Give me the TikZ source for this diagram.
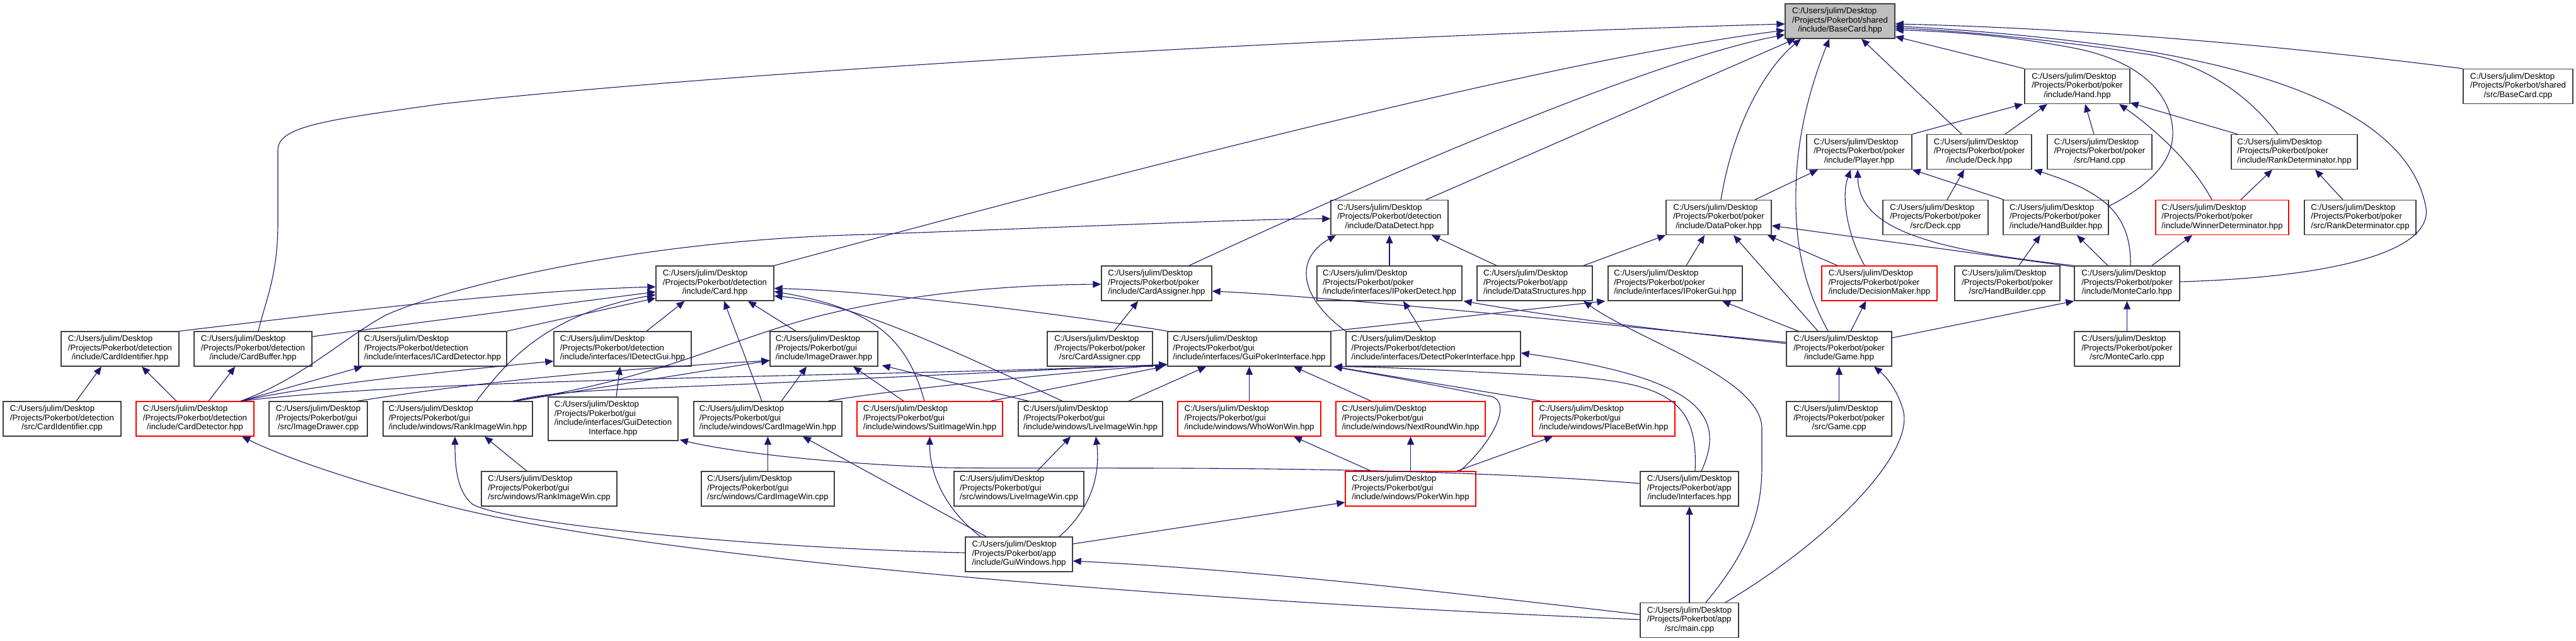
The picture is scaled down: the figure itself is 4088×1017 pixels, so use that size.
\documentclass[tikz,border=0pt]{standalone}
\usepackage{fontspec}
\setmainfont{Liberation Sans}
\usetikzlibrary{arrows.meta,calc}
\definecolor{mblue}{RGB}{25,25,112}
\definecolor{bgray}{RGB}{64,64,64}
\newcommand{\dlab}[2]{\begin{tabular}{@{}l@{}}C:/Users/julim/Desktop\\/Projects/Pokerbot/#1\\\multicolumn{1}{@{}c@{}}{#2}\end{tabular}}
\begin{document}
\begin{tikzpicture}[x=1pt,y=-1pt,
  nd/.style={draw=bgray,line width=1.3pt,fill=white,inner sep=0pt,minimum height=55pt,font=\fontsize{13.2}{14.5}\selectfont},
  rnd/.style={nd,draw=red},
  edg/.style={draw=mblue,line width=1.1pt,-{Triangle[length=13pt,width=11pt]}}]
\fill[white] (0,0) rectangle (4088,1017);
\useasboundingbox (0,0) rectangle (4088,1017);
% row 0
\node[nd,minimum width=174pt,fill=gray!50] (bch) at (2920,33.5) {\dlab{shared}{/include/BaseCard.hpp}};
% row 1
\node[nd,minimum width=167pt] (hand) at (3296.5,137) {\dlab{poker}{/include/Hand.hpp}};
\node[nd,minimum width=174pt] (bcc) at (3996,137) {\dlab{shared}{/src/BaseCard.cpp}};
% row 2
\node[nd,minimum width=167pt] (player) at (2950.5,241) {\dlab{poker}{/include/Player.hpp}};
\node[nd,minimum width=166pt] (deck) at (3141,241) {\dlab{poker}{/include/Deck.hpp}};
\node[nd,minimum width=166pt] (handcpp) at (3332,241) {\dlab{poker}{/src/Hand.cpp}};
\node[nd,minimum width=200pt] (rankh) at (3641,241) {\dlab{poker}{/include/RankDeterminator.hpp}};
% row 3
\node[nd,minimum width=186pt] (dd) at (2205,345) {\dlab{detection}{/include/DataDetect.hpp}};
\node[nd,minimum width=167pt] (dp) at (2727.5,345) {\dlab{poker}{/include/DataPoker.hpp}};
\node[nd,minimum width=167pt] (deckcpp) at (3071.5,345) {\dlab{poker}{/src/Deck.cpp}};
\node[nd,minimum width=167pt] (hbh) at (3262.5,345) {\dlab{poker}{/include/HandBuilder.hpp}};
\node[rnd,minimum width=211pt] (winner) at (3526.5,345) {\dlab{poker}{/include/WinnerDeterminator.hpp}};
\node[nd,minimum width=177pt] (rankcpp) at (3745.5,345) {\dlab{poker}{/src/RankDeterminator.cpp}};
% row 4
\node[nd,minimum width=187pt] (card) at (1134.5,449.5) {\dlab{detection}{/include/Card.hpp}};
\node[nd,minimum width=175pt] (cah) at (1835.5,449.5) {\dlab{poker}{/include/CardAssigner.hpp}};
\node[nd,minimum width=230pt] (ipd) at (2205,449.5) {\dlab{poker}{/include/interfaces/IPokerDetect.hpp}};
\node[nd,minimum width=183pt] (ds) at (2435.5,449.5) {\dlab{app}{/include/DataStructures.hpp}};
\node[nd,minimum width=213pt] (ipg) at (2658.5,449.5) {\dlab{poker}{/include/interfaces/IPokerGui.hpp}};
\node[rnd,minimum width=183pt] (dm) at (2982.5,449.5) {\dlab{poker}{/include/DecisionMaker.hpp}};
\node[nd,minimum width=167pt] (hbcpp) at (3185.5,449.5) {\dlab{poker}{/src/HandBuilder.cpp}};
\node[nd,minimum width=167pt] (mch) at (3375.5,449.5) {\dlab{poker}{/include/MonteCarlo.hpp}};
% row 5
\node[nd,minimum width=187pt] (cih) at (190.5,553.5) {\dlab{detection}{/include/CardIdentifier.hpp}};
\node[nd,minimum width=187pt] (cbuf) at (401.5,553.5) {\dlab{detection}{/include/CardBuffer.hpp}};
\node[nd,minimum width=235pt] (icd) at (686.5,553.5) {\dlab{detection}{/include/interfaces/ICardDetector.hpp}};
\node[nd,minimum width=218pt] (idg) at (988,553.5) {\dlab{detection}{/include/interfaces/IDetectGui.hpp}};
\node[nd,minimum width=171pt] (idh) at (1307.5,553.5) {\dlab{gui}{/include/ImageDrawer.hpp}};
\node[nd,minimum width=167pt] (cacpp) at (1745.5,553.5) {\dlab{poker}{/src/CardAssigner.cpp}};
\node[nd,minimum width=259pt] (gpi) at (1982.5,553.5) {\dlab{gui}{/include/interfaces/GuiPokerInterface.hpp}};
\node[nd,minimum width=277pt] (dpi) at (2274.5,553.5) {\dlab{detection}{/include/interfaces/DetectPokerInterface.hpp}};
\node[nd,minimum width=167pt] (game) at (2918.5,553.5) {\dlab{poker}{/include/Game.hpp}};
\node[nd,minimum width=167pt] (mccpp) at (3375.5,553.5) {\dlab{poker}{/src/MonteCarlo.cpp}};
% row 6
\node[nd,minimum width=187pt] (cicpp) at (98.5,664.5) {\dlab{detection}{/src/CardIdentifier.cpp}};
\node[rnd,minimum width=187pt] (cdet) at (309.5,664.5) {\dlab{detection}{/include/CardDetector.hpp}};
\node[nd,minimum width=156pt] (idcpp) at (505,664.5) {\dlab{gui}{/src/ImageDrawer.cpp}};
\node[nd,minimum width=237pt] (riwh) at (726.5,664.5) {\dlab{gui}{/include/windows/RankImageWin.hpp}};
\node[nd,minimum width=206pt,minimum height=69pt] (gdi) at (973,664.5) {\begin{tabular}{@{}l@{}}C:/Users/julim/Desktop\\/Projects/Pokerbot/gui\\/include/interfaces/GuiDetection\\\multicolumn{1}{@{}c@{}}{Interface.hpp}\end{tabular}};
\node[nd,minimum width=235pt] (ciwh) at (1218.5,664.5) {\dlab{gui}{/include/windows/CardImageWin.hpp}};
\node[rnd,minimum width=231pt] (siwh) at (1475.5,664.5) {\dlab{gui}{/include/windows/SuitImageWin.hpp}};
\node[nd,minimum width=229pt] (liwh) at (1730.5,664.5) {\dlab{gui}{/include/windows/LiveImageWin.hpp}};
\node[rnd,minimum width=227pt] (wwwh) at (1982.5,664.5) {\dlab{gui}{/include/windows/WhoWonWin.hpp}};
\node[rnd,minimum width=237pt] (nrwh) at (2238.5,664.5) {\dlab{gui}{/include/windows/NextRoundWin.hpp}};
\node[rnd,minimum width=226pt] (pbwh) at (2545,664.5) {\dlab{gui}{/include/windows/PlaceBetWin.hpp}};
\node[nd,minimum width=167pt] (gamecpp) at (2918.5,664.5) {\dlab{poker}{/src/Game.cpp}};
% row 7
\node[nd,minimum width=215pt] (riwcpp) at (871.5,775.5) {\dlab{gui}{/src/windows/RankImageWin.cpp}};
\node[nd,minimum width=211pt] (ciwcpp) at (1218.5,775.5) {\dlab{gui}{/src/windows/CardImageWin.cpp}};
\node[nd,minimum width=206pt] (liwcpp) at (1617,775.5) {\dlab{gui}{/src/windows/LiveImageWin.cpp}};
\node[rnd,minimum width=207pt] (pwh) at (2238.5,775.5) {\dlab{gui}{/include/windows/PokerWin.hpp}};
\node[nd,minimum width=156pt] (ifh) at (2681,775.5) {\dlab{app}{/include/Interfaces.hpp}};
% row 8, 9
\node[nd,minimum width=170pt] (gwh) at (1617,879.5) {\dlab{app}{/include/GuiWindows.hpp}};
\node[nd,minimum width=156pt] (main) at (2681,984) {\dlab{app}{/src/main.cpp}};

% ---- edges into BaseCard.hpp
\draw[edg] ($(cbuf.north)+(8.5,0)$) .. controls (420,480) and (441,440) .. (441,353) -- (441,238) .. controls (441,200) and (520,190) .. (700,165) .. controls (1100,120) and (2000,62) .. ($(bch.west)+(0,4.5)$);
\draw[edg] (card.north east) .. controls (1900,240) and (2500,90) .. ($(bch.west)+(0,14.5)$);
\draw[edg] ($(cah.north)+(51.5,0)$) .. controls (2300,230) and (2650,90) .. ($(bch.west)+(0,21.5)$);
\draw[edg] ($(dd.north)+(58,0)$) -- ($(bch.south)+(-71,0)$);
\draw[edg] ($(dp.north)+(3.5,0)$) .. controls (2750,200) and (2800,110) .. ($(bch.south)+(-62,0)$);
\draw[edg] ($(game.north)+(-17.5,0)$) .. controls (2860,450) and (2848,380) .. (2850,300) .. controls (2852,200) and (2880,120) .. ($(bch.south)+(-17,0)$);
\draw[edg] ($(deck.north)+(-28,0)$) -- ($(bch.south)+(34,0)$);
\draw[edg] (hand.north west) -- ($(bch.east)+(0,24.5)$);
\draw[edg] (bcc.north west) .. controls (3600,70) and (3300,45) .. ($(bch.east)+(0,4.5)$);
\draw[edg] ($(mch.east)+(0,-2.5)$) .. controls (3700,440) and (3860,400) .. (3850,330) .. controls (3830,220) and (3700,130) .. (3400,80) .. controls (3250,57) and (3100,46) .. ($(bch.east)+(0,8)$);
\draw[edg] ($(rankh.north)+(-26,0)$) .. controls (3560,140) and (3480,95) .. (3400,85) .. controls (3250,62) and (3100,48) .. ($(bch.east)+(0,11)$);
\draw[edg] ($(hbh.east)+(0,-18)$) .. controls (3420,290) and (3450,250) .. (3448,207) .. controls (3445,150) and (3400,100) .. (3300,78) .. controls (3200,58) and (3100,50) .. ($(bch.east)+(0,14)$);
% ---- Hand
\draw[edg] (player.north east) -- ($(hand.south west)+(-2,0)$);
\draw[edg] ($(deck.north)+(41,0)$) -- ($(hand.south)+(-47.5,0)$);
\draw[edg] ($(handcpp.north)+(-9,0)$) -- ($(hand.south)+(12.5,0)$);
\draw[edg] ($(winner.north)+(-16.5,0)$) .. controls (3480,260) and (3420,205) .. ($(hand.south)+(66.5,0)$);
\draw[edg] ($(rankh.north)+(-90,0)$) -- ($(hand.south east)+(0,-2)$);
% ---- Player, Deck
\draw[edg] ($(dp.north)+(57.5,0)$) -- ($(player.south)+(-65.5,0)$);
\draw[edg] ($(dm.north)+(-23.5,0)$) .. controls (2930,370) and (2922,310) .. ($(player.south)+(-13.5,0)$);
\draw[edg] (mch.north west) .. controls (3050,395) and (2950,360) .. ($(player.south)+(-2.5,0)$);
\draw[edg] ($(hbh.north)+(-82.5,0)$) -- (player.south east);
\draw[edg] ($(deckcpp.north)+(18.5,0)$) -- ($(deck.south)+(-24,0)$);
\draw[edg] ($(mch.north)+(5.5,0)$) .. controls (3382,340) and (3340,305) .. ($(deck.south east)+(3,0)$);
% ---- DataDetect
\draw[edg] ($(ds.north)+(-60.5,0)$) -- ($(dd.south)+(67,0)$);
\draw[edg] (ipd.north) -- (dd.south);
\draw[edg] (dpi.north west) .. controls (2060,470) and (2055,410) .. ($(dd.south)+(-85,0)$);
\draw[edg] ($(cdet.north)+(72.5,0)$) .. controls (480,600) and (540,540) .. (612,500) .. controls (700,460) and (1000,380) .. (1380,372) .. controls (1700,360) and (2000,347) .. ($(dd.west)+(0,2)$);
% ---- Card
\draw[edg] (cih.north east) .. controls (500,500) and (800,462) .. ($(card.west)+(0,5.5)$);
\draw[edg] ($(cbuf.east)+(0,-19.5)$) -- ($(card.west)+(0,13.5)$);
\draw[edg] (icd.north east) -- ($(card.west)+(0,23.5)$);
\draw[edg] ($(riwh.north)+(29.5,0)$) .. controls (800,580) and (860,500) .. ($(card.west)+(0,18)$);
\draw[edg] ($(idg.north)+(38,0)$) -- ($(card.south)+(-48,0)$);
\draw[edg] ($(ciwh.north)+(-9.5,0)$) -- ($(card.south)+(14.5,0)$);
\draw[edg] ($(idh.north)+(-44.5,0)$) -- ($(card.south)+(52.5,0)$);
\draw[edg] (gpi.north west) .. controls (1700,500) and (1400,462) .. ($(card.east)+(0,8)$);
\draw[edg] ($(siwh.north)+(-8.5,0)$) .. controls (1440,540) and (1390,490) .. ($(card.east)+(0,13)$);
\draw[edg] ($(liwh.north)+(-44.5,0)$) .. controls (1500,550) and (1350,480) .. ($(card.east)+(0,20)$);
% ---- CardAssigner
\draw[edg] ($(cacpp.north)+(22.5,0)$) -- ($(cah.south)+(-29.5,0)$);
\draw[edg] ($(riwh.north)+(87.5,0)$) .. controls (1050,600) and (1150,540) .. (1305,500) .. controls (1450,465) and (1600,452) .. ($(cah.west)+(0,1.5)$);
\draw[edg] ($(game.west)+(0,-10.5)$) .. controls (2500,510) and (2100,470) .. ($(cah.east)+(0,12.5)$);
% ---- IPokerDetect, IPokerGui, DataPoker
\draw[edg] ($(game.west)+(0,-8.5)$) .. controls (2600,520) and (2450,500) .. ($(ipd.south east)+(2,0)$);
\draw[edg] ($(dpi.north)+(-18.5,0)$) -- ($(ipd.south)+(22,0)$);
\draw[edg] (gpi.north east) -- ($(ipg.south west)+(-4,0)$);
\draw[edg] ($(ipg.north)+(17.5,0)$) -- ($(dp.south)+(-22.5,0)$);
\draw[edg] ($(ds.north)+(77.5,0)$) -- (dp.south west);
\draw[edg] ($(game.north)+(-64.5,0)$) -- ($(ipg.south)+(74.5,0)$);
\draw[edg] ($(game.north)+(-33.5,0)$) -- ($(dp.south)+(23.5,0)$);
\draw[edg] ($(game.north)+(18.5,0)$) -- ($(dm.south)+(-21.5,0)$);
\draw[edg] ($(dm.north)+(-66.5,0)$) -- ($(dp.south)+(77.5,0)$);
\draw[edg] ($(mch.north west)+(0,2)$) -- ($(dp.east)+(0,13)$);
% ---- HandBuilder, Winner, Rank, MonteCarlo
\draw[edg] ($(hbcpp.north)+(18.5,0)$) -- ($(hbh.south)+(-24.5,0)$);
\draw[edg] ($(mch.north)+(-30.5,0)$) -- ($(hbh.south)+(33.5,0)$);
\draw[edg] ($(mch.north)+(39.5,0)$) -- ($(winner.south)+(-47.5,0)$);
\draw[edg] ($(winner.north)+(29.5,0)$) -- ($(rankh.south)+(-35,0)$);
\draw[edg] ($(rankcpp.north)+(-27.5,0)$) -- ($(rankh.south)+(33,0)$);
\draw[edg] (mccpp.north) -- (mch.south);
\draw[edg] ($(game.east)+(0,-17.5)$) -- (mch.south west);
% ---- Game, main
\draw[edg] (gamecpp.north) -- (game.south);
\draw[edg] ($(main.north)+(57,0)$) .. controls (2900,860) and (3040,720) .. (3020,650) .. controls (3010,615) and (2990,595) .. ($(game.south)+(55.5,0)$);
\draw[edg] ($(main.north)+(26,0)$) .. controls (2770,880) and (2796,820) .. (2796,740) -- (2796,680) .. controls (2796,600) and (2600,540) .. ($(ds.south)+(77.5,0)$);
\draw[edg] (main.north) -- (ifh.south);
\draw[edg] ($(main.west)+(0,-9)$) .. controls (2300,940) and (2000,905) .. ($(gwh.east)+(0,10.5)$);
\draw[edg] ($(main.west)+(0,-1)$) .. controls (1800,950) and (1000,880) .. (700,800) .. controls (550,760) and (450,725) .. ($(cdet.south)+(74.5,0)$);
% ---- Interfaces
\draw[edg] ($(ifh.north)+(9,0)$) .. controls (2695,640) and (2650,610) .. (2500,598) .. controls (2300,588) and (2200,582) .. ($(gpi.south east)+(4,0)$);
\draw[edg] ($(ifh.north)+(19,0)$) .. controls (2740,660) and (2700,600) .. ($(dpi.east)+(0,6.5)$);
\draw[edg] ($(ifh.west)+(0,-8.5)$) .. controls (2200,735) and (1700,745) .. (1500,742) .. controls (1300,735) and (1150,715) .. ($(gdi.south east)+(2,-2)$);
% ---- GuiPokerInterface
\draw[edg] ($(pwh.north)+(78.5,0)$) .. controls (2380,690) and (2400,630) .. (2360,628) .. controls (2250,605) and (2160,590) .. ($(gpi.south east)+(4,0)$);
\draw[edg] ($(pbwh.north)+(-99,0)$) -- ($(gpi.south east)+(4,0)$);
\draw[edg] ($(nrwh.north)+(-62.5,0)$) -- ($(gpi.south)+(70.5,0)$);
\draw[edg] (wwwh.north) -- (gpi.south);
\draw[edg] ($(liwh.north)+(60.5,0)$) -- ($(gpi.south)+(-68.5,0)$);
\draw[edg] ($(siwh.north)+(96.5,0)$) -- ($(gpi.south west)+(-6,0)$);
\draw[edg] ($(ciwh.north)+(95.5,0)$) .. controls (1400,620) and (1700,590) .. ($(gpi.west)+(0,25)$);
\draw[edg] ($(cdet.north)+(72.5,0)$) .. controls (700,598) and (1400,598) .. ($(gpi.west)+(0,25)$);
\draw[edg] ($(riwh.north)+(87.5,0)$) .. controls (900,615) and (1000,620) .. (1380,600) .. controls (1600,590) and (1800,580) .. ($(gpi.west)+(0,25)$);
% ---- windows
\draw[edg] ($(pwh.north)+(-62.5,0)$) -- ($(wwwh.south)+(70.5,0)$);
\draw[edg] (pwh.north) -- (nrwh.south);
\draw[edg] ($(pwh.north)+(73.5,0)$) -- ($(pbwh.south)+(-81,0)$);
\draw[edg] ($(gwh.east)+(0,-16.5)$) -- ($(pwh.west)+(0,21.5)$);
\draw[edg] ($(gwh.north)+(-61,0)$) .. controls (1490,800) and (1475,740) .. (siwh.south);
\draw[edg] ($(gwh.north)+(64,0)$) .. controls (1740,800) and (1745,740) .. ($(liwh.south)+(8.5,0)$);
\draw[edg] ($(liwcpp.north)+(29,0)$) -- ($(liwh.south)+(-31.5,0)$);
\draw[edg] ($(gwh.north)+(-52,0)$) -- ($(ciwh.south)+(55.5,0)$);
\draw[edg] (ciwcpp.north) -- (ciwh.south);
\draw[edg] ($(gwh.west)+(0,-2.5)$) .. controls (1200,870) and (800,830) .. (750,800) .. controls (725,780) and (722,740) .. ($(riwh.south)+(-4.5,0)$);
\draw[edg] ($(riwcpp.north)+(-35.5,0)$) -- ($(riwh.south)+(42.5,0)$);
% ---- detection
\draw[edg] ($(gdi.north)+(5,0)$) -- ($(idg.south)+(-4,0)$);
\draw[edg] ($(cdet.north)+(72.5,0)$) .. controls (500,610) and (700,590) .. ($(idg.west)+(0,19.5)$);
\draw[edg] ($(cdet.north)+(72.5,0)$) -- ($(icd.south west)+(7,0)$);
\draw[edg] ($(cdet.north)+(-29.5,0)$) -- ($(cih.south)+(34.5,0)$);
\draw[edg] ($(cdet.north)+(21.5,0)$) -- ($(cbuf.south)+(-28.5,0)$);
\draw[edg] ($(cicpp.north)+(22.5,0)$) -- ($(cih.south)+(-29.5,0)$);
% ---- ImageDrawer
\draw[edg] ($(idcpp.north)+(62,0)$) .. controls (800,600) and (1000,585) .. ($(idh.west)+(0,18.5)$);
\draw[edg] ($(riwh.north)+(91.5,0)$) -- ($(idh.west)+(0,18.5)$);
\draw[edg] ($(ciwh.north)+(21.5,0)$) -- ($(idh.south)+(-27.5,0)$);
\draw[edg] ($(siwh.north)+(-41.5,0)$) -- ($(idh.south)+(46.5,0)$);
\draw[edg] ($(liwh.north)+(-98.5,0)$) -- ($(idh.south east)+(6,-2)$);
\end{tikzpicture}
\end{document}
